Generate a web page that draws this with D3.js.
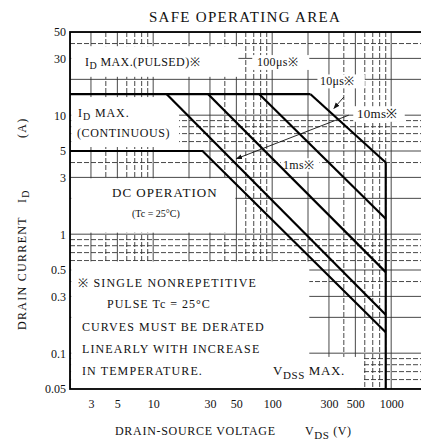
<!DOCTYPE html>
<html>
<head>
<meta charset="utf-8">
<script src="https://cdn.jsdelivr.net/npm/d3@7"></script>
<style>
  body { margin: 0; background: #fff; }
  text { font-family: "Liberation Serif", "DejaVu Serif", serif; fill: #111; }
</style>
</head>
<body>
<svg id="soa"></svg>
<script>
// tick labels
const xTicks = [3, 5, 10, 30, 50, 100, 300, 500, 1000]
const yTicks = [0.05, 0.1, 0.3, 0.5, 1, 3, 5, 10, 30, 50]

// grid lines (log minors)
const gridV = [2,3,4,5,6,7,8,9,10,20,30,40,50,60,70,80,90,100,200,300,400,500,600,700,800,900,1000,2000]
const gridI = [0.05,0.06,0.07,0.08,0.09,0.1,0.2,0.3,0.4,0.5,0.6,0.7,0.8,0.9,1,2,3,4,5,6,7,8,9,10,20,30,40,50]

// SOA boundaries [V, A]
const pulsedLimit = [[2, 15], [210, 15]]
const curve10us = [[210, 15], [900, 4.0]]
const curve100us = [[78, 15], [900, 1.35]]
const curve1ms = [[29, 15], [900, 0.48]]
const curve10ms = [[13, 15], [900, 0.21]]
const curveDC = [[2, 5], [26, 5], [900, 0.15]]
const vdssMax = [[900, 4.0], [900, 0.05]]

// leader arrows [from, to] in [V, A]
const arrow10ms = [[440, 10], [50, 4.3]]
const arrow10us = [[400, 14.2], [330, 11.4]]

var W = 421, H = 443
var svg = d3.select("#soa").attr("width", W).attr("height", H)

var x = d3.scaleLog().domain([2, 2000]).range([70, 427])
var y = d3.scaleLog().domain([0.05, 50]).range([389, 32])

var pL = x(2), pT = y(50), pB = y(0.05), pR = x(2000)

var defs = svg.append("defs")
defs.append("clipPath")
    .attr("id", "clip")
  .append("rect")
    .attr("x", pL).attr("y", pT)
    .attr("width", pR - pL).attr("height", pB - pT)

defs.append("marker")
    .attr("id", "arr")
    .attr("viewBox", "0 0 10 10")
    .attr("refX", 9).attr("refY", 5)
    .attr("markerWidth", 7).attr("markerHeight", 7)
    .attr("orient", "auto")
  .append("path")
    .attr("d", "M0,1L10,5L0,9z")
    .attr("fill", "#111")

var g = svg.append("g").attr("clip-path", "url(#clip)")

// grid
var solid = v => [1, 2, 3, 5].includes(Math.round(v / Math.pow(10, Math.floor(Math.log10(v) + 1e-9))))
g.append("g").selectAll("line").data(gridV).join("line")
    .attr("x1", d => x(d)).attr("x2", d => x(d))
    .attr("y1", pT).attr("y2", pB)
    .attr("stroke", "#333").attr("stroke-width", 0.9)
    .attr("stroke-dasharray", d => solid(d) ? null : "5,2")
g.append("g").selectAll("line").data(gridI).join("line")
    .attr("y1", d => y(d)).attr("y2", d => y(d))
    .attr("x1", pL).attr("x2", pR)
    .attr("stroke", "#333").attr("stroke-width", 0.9)
    .attr("stroke-dasharray", d => solid(d) ? null : "5,2")

// white areas behind the notes
var blanks = g.append("g").attr("fill", "#fff")
function blank(v0, v1, i0, i1) {
    blanks.append("rect")
        .attr("x", x(v0)).attr("y", y(i1))
        .attr("width", x(v1) - x(v0)).attr("height", y(i0) - y(i1))
}
blank(2.05, 52, 21, 38)        // pulsed label
blank(2.05, 16.5, 5.4, 14.2)   // continuous label
blank(2.05, 49, 1.03, 2.95)    // DC operation
blank(2.05, 205, 0.0505, 0.59) // notes
blank(2.05, 580, 0.0505, 0.093) // VDSS MAX
blank(68, 205, 24, 32)         // 100us
blank(240, 600, 16.8, 22)      // 10us
blank(480, 1300, 8.8, 11.9)    // 10ms
blank(118, 250, 3.35, 4.35)    // 1ms

// SOA curves
var line = d3.line().x(d => x(d[0])).y(d => y(d[1]))
g.append("g").attr("fill", "none").attr("stroke", "#000").attr("stroke-width", 2.2)
  .selectAll("path")
  .data([pulsedLimit, curve10us, curve100us, curve1ms, curve10ms, curveDC, vdssMax])
  .join("path")
    .attr("d", line)

// leaders
g.append("g").attr("stroke", "#111").attr("stroke-width", 0.9)
  .selectAll("line").data([arrow10ms, arrow10us]).join("line")
    .attr("x1", d => x(d[0][0])).attr("y1", d => y(d[0][1]))
    .attr("x2", d => x(d[1][0])).attr("y2", d => y(d[1][1]))
    .attr("marker-end", "url(#arr)")

// frame
svg.append("rect")
    .attr("x", pL).attr("y", pT)
    .attr("width", pR - pL).attr("height", pB - pT)
    .attr("fill", "none").attr("stroke", "#000").attr("stroke-width", 1.8)

// axes
var xAxis = svg.append("g")
    .attr("transform", "translate(0," + pB + ")")
    .call(d3.axisBottom(x).tickValues(xTicks).tickFormat(d3.format("~g")).tickSize(0).tickPadding(10))
xAxis.select(".domain").remove()
xAxis.selectAll("text").style("font-size", "12px").style("font-family", "Liberation Serif, serif").attr("fill", "#111")

var yAxis = svg.append("g")
    .attr("transform", "translate(" + pL + ",0)")
    .call(d3.axisLeft(y).tickValues(yTicks).tickFormat(d3.format("~g")).tickSize(0).tickPadding(4))
yAxis.select(".domain").remove()
yAxis.selectAll("text").style("font-size", "12px").style("font-family", "Liberation Serif, serif").attr("fill", "#111")

// texts
function label(px, py, size, parts, spacing) {
    var t = svg.append("text")
        .attr("x", px).attr("y", py)
        .style("font-size", size + "px")
        .style("letter-spacing", (spacing || 0) + "px")
    parts.forEach(p => {
        if (typeof p === "string") t.append("tspan").text(p)
        else t.append("tspan").attr("dy", p.dy).style("font-size", p.size + "px").text(p.t)
    })
    return t
}

svg.append("text")
    .attr("x", 245).attr("y", 22)
    .attr("text-anchor", "middle")
    .style("font-size", "15px").style("letter-spacing", "1.3px")
    .text("SAFE OPERATING AREA")

label(85, 66, 12, ["I", {t: "D", dy: 3, size: 10}, {t: " MAX.(PULSED)\u203B", dy: -3, size: 12}], 0.4)
label(78, 117, 12, ["I", {t: "D", dy: 3, size: 10}, {t: " MAX.", dy: -3, size: 12}], 0.9)
label(77, 137, 12, ["(CONTINUOUS)"], 0.6)
label(112, 197, 13, ["DC OPERATION"], 1)
label(132, 217, 10, ["(Tc = 25\u00B0C)"], 0)
label(78, 287, 12, ["\u203B  SINGLE NONREPETITIVE"], 1.2)
label(107, 308, 12, ["PULSE  Tc = 25\u00B0C"], 1)
label(82, 331, 12, ["CURVES MUST BE DERATED"], 1.1)
label(82, 353, 12, ["LINEARLY WITH INCREASE"], 1.1)
label(82, 375, 12, ["IN TEMPERATURE."], 1.1)
label(273, 375, 13, ["V", {t: "DSS", dy: 4, size: 11}, {t: " MAX.", dy: -4, size: 13}], 0.6)
label(257, 66, 12, ["100\u03BCs\u203B"], 0.3)
label(320, 85, 12, ["10\u03BCs\u203B"], 0.3)
label(357, 118, 13, ["10ms\u203B"], 0.3)
label(283, 169, 12, ["1ms\u203B"], 0.3)

label(115, 435, 12, ["DRAIN-SOURCE VOLTAGE"], 0.7)
label(305, 435, 12, ["V", {t: "DS", dy: 4, size: 11}, {t: "  (V)", dy: -4, size: 12}], 0.6)

svg.append("g").attr("transform", "translate(26,330) rotate(-90)")
  .append("text")
    .style("font-size", "12px").style("letter-spacing", "1.3px")
    .call(t => {
        t.append("tspan").text("DRAIN CURRENT")
        t.append("tspan").attr("x", 127).text("I")
        t.append("tspan").attr("dy", 3).style("font-size", "10px").text("D")
        t.append("tspan").attr("x", 192).attr("dy", -3).text("(A)")
    })
</script>
</body>
</html>
